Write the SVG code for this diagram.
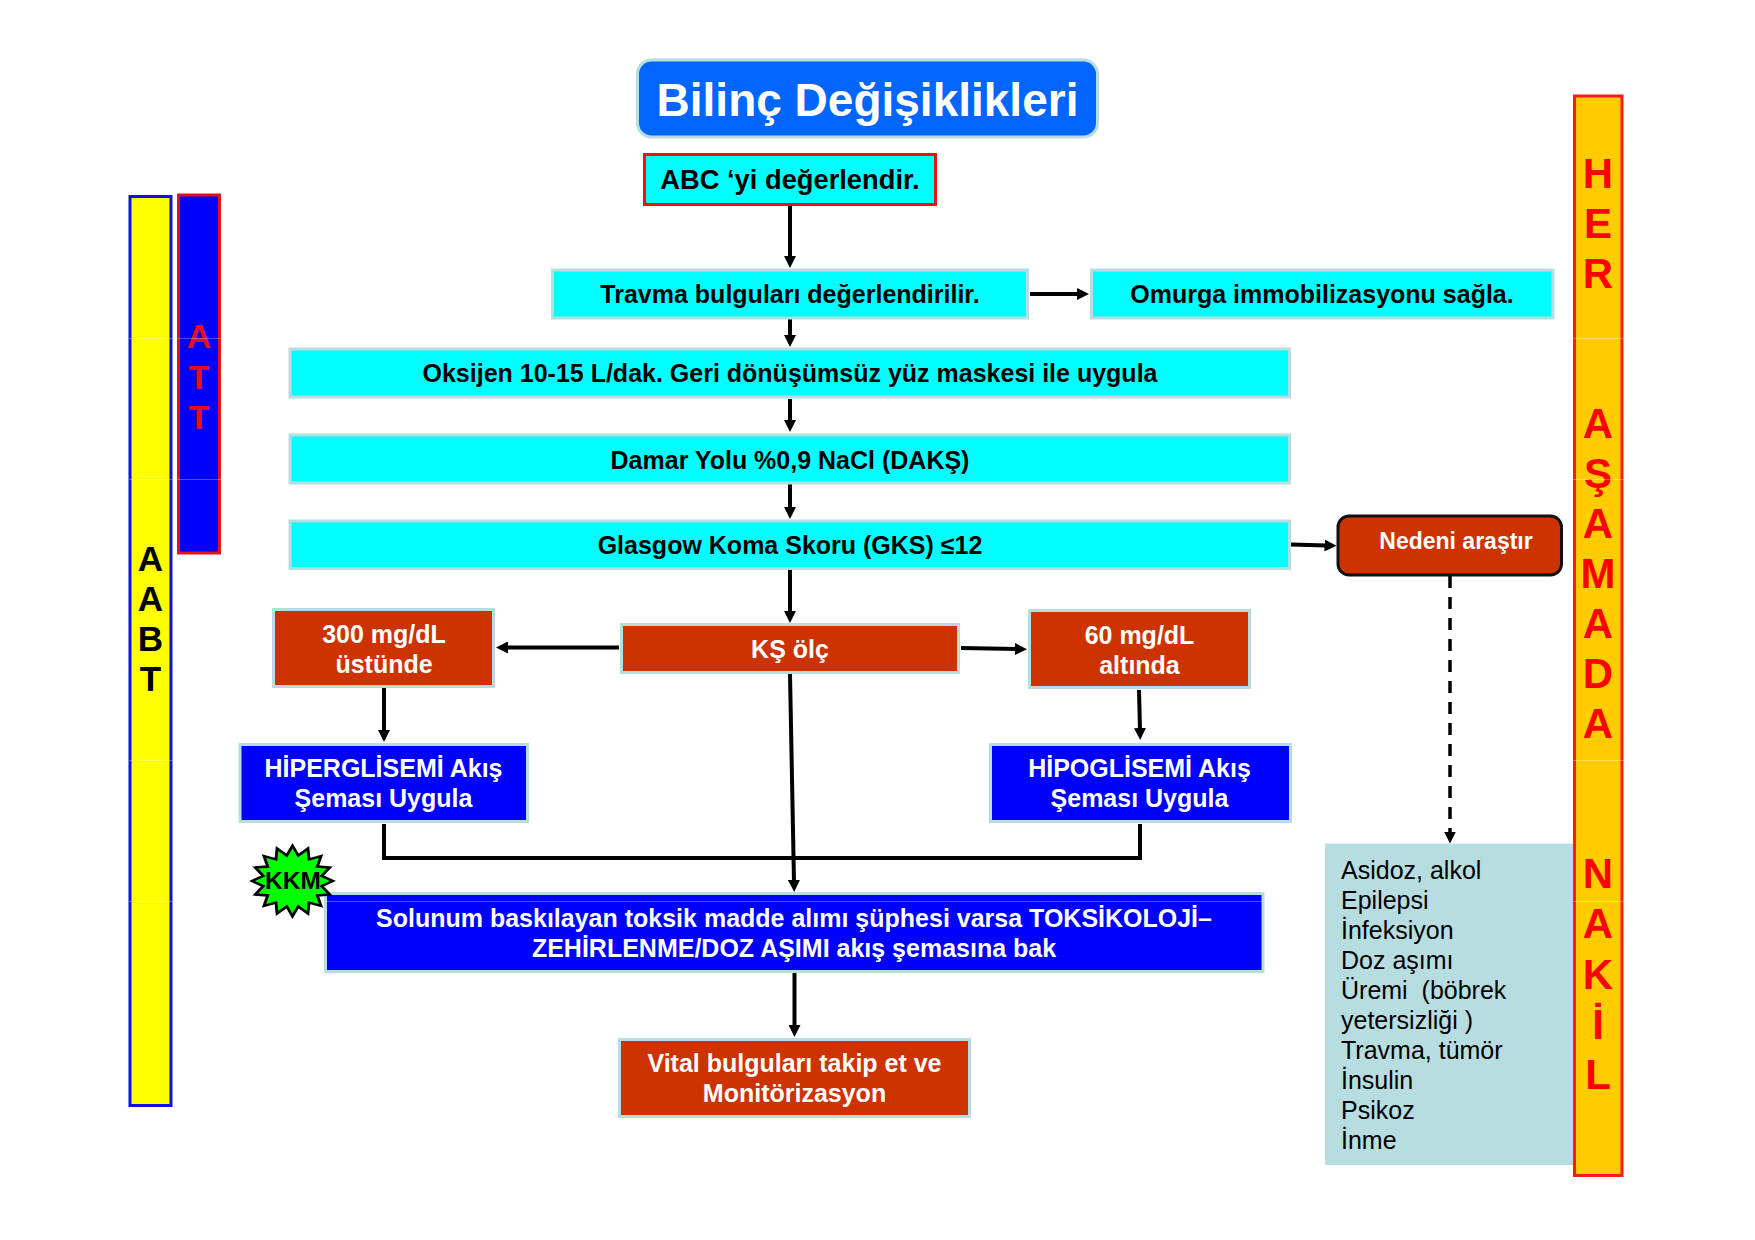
<svg xmlns="http://www.w3.org/2000/svg" width="1755" height="1240" viewBox="0 0 1755 1240">
<style>
text{font-family:"Liberation Sans",Arial,sans-serif;font-weight:700;text-anchor:middle}
.box{stroke:#b7dde0;stroke-width:3}
.cy{fill:#00ffff}.br{fill:#cc3300}.bl{fill:#0000ff}
.k{font-size:25px;fill:#000}.w{font-size:25px;fill:#fff}
.side{font-size:42px;fill:#ff0000}
.att{font-size:34px;fill:#e6101a}
.abt{font-size:35px;fill:#000}
.list{font-weight:400;font-size:25px;fill:#000;text-anchor:start}
.c{fill:none;stroke:#000;stroke-width:4}
.seam{fill:none;stroke:#fff;stroke-width:1;opacity:.3}
</style>
<defs>
<marker id="a" markerUnits="userSpaceOnUse" markerWidth="12" markerHeight="12" refX="2" refY="6" orient="auto"><path d="M0 0L12 6L0 12z" fill="#000"/></marker>
</defs>
<rect width="1755" height="1240" fill="#fff"/>
<g id="connectors">
<path class="c" marker-end="url(#a)" d="M790 206L790 258"/>
<path class="c" marker-end="url(#a)" d="M790 318L790 337"/>
<path class="c" marker-end="url(#a)" d="M1030 294L1079 294"/>
<path class="c" marker-end="url(#a)" d="M790 399L790 422"/>
<path class="c" marker-end="url(#a)" d="M790 484L790 509"/>
<path class="c" marker-end="url(#a)" d="M790 570L790 613"/>
<path class="c" marker-end="url(#a)" d="M619 647.500L506 647.500"/>
<path class="c" marker-end="url(#a)" d="M961 648L1017 649"/>
<path class="c" marker-end="url(#a)" d="M384 688L384 732"/>
<path class="c" marker-end="url(#a)" d="M1139 690L1140 730"/>
<path class="c" marker-end="url(#a)" d="M790 674L794 882"/>
<path class="c" d="M384 824L384 858L1140 858L1140 824"/>
<path class="c" marker-end="url(#a)" d="M794.500 973L794.500 1027"/>
<path class="c" marker-end="url(#a)" d="M1291 544.500L1326.500 545.500"/>
<path class="c" marker-end="url(#a)" d="M1450 576L1450 833.500" stroke-dasharray="12 9" style="stroke-width:3.500"/>
</g>
<g id="title"><rect class="box" x="637.500" y="60" width="460" height="77" rx="14" style="fill:#0066ff"/><text x="867.500" y="116" style="font-size:46px;fill:#fff">Bilinç Değişiklikleri</text></g>
<g id="abc"><rect x="644.500" y="154.500" width="291" height="50" style="fill:#00ffff;stroke:#e11;stroke-width:3"/><text class="k" x="790" y="189" style="font-size:27.300px">ABC ‘yi değerlendir.</text></g>
<g id="travma"><rect class="box cy" x="552.500" y="270" width="475" height="48"/><text class="k" x="790" y="303">Travma bulguları değerlendirilir.</text></g>
<g id="omurga"><rect class="box cy" x="1091.500" y="270" width="461.500" height="48"/><text class="k" x="1322" y="303">Omurga immobilizasyonu sağla.</text></g>
<g id="oksijen"><rect class="box cy" x="290" y="349" width="999.500" height="48"/><text class="k" x="790" y="382">Oksijen 10-15 L/dak. Geri dönüşümsüz yüz maskesi ile uygula</text></g>
<g id="damar"><rect class="box cy" x="290" y="435" width="999.500" height="48"/><text class="k" x="790" y="468.500">Damar Yolu %0,9 NaCl (DAKŞ)</text></g>
<g id="glasgow"><rect class="box cy" x="290" y="521" width="999.500" height="47.500"/><text class="k" x="790" y="554">Glasgow Koma Skoru (GKS) ≤12</text></g>
<g id="nedeni"><rect x="1338" y="516" width="223.500" height="59" rx="11" style="fill:#cc3300;stroke:#111;stroke-width:3"/><text class="w" x="1456" y="549" style="font-size:23px">Nedeni araştır</text></g>
<g id="ks"><rect class="box br" x="621.500" y="624.500" width="337" height="48"/><text class="w" x="790" y="658">KŞ ölç</text></g>
<g id="h300"><rect class="box br" x="273.500" y="609.500" width="220" height="77"/><text class="w" x="384" y="643">300 mg/dL</text><text class="w" x="384" y="673">üstünde</text></g>
<g id="h60"><rect class="box br" x="1029.500" y="610.500" width="220" height="77"/><text class="w" x="1139.500" y="644">60 mg/dL</text><text class="w" x="1139.500" y="674">altında</text></g>
<g id="hiper"><rect class="box bl" x="240" y="744.500" width="287.500" height="77"/><text class="w" x="383.500" y="777">HİPERGLİSEMİ Akış</text><text class="w" x="383.500" y="807">Şeması Uygula</text></g>
<g id="hipo"><rect class="box bl" x="990.500" y="744.500" width="300" height="77"/><text class="w" x="1139.500" y="777">HİPOGLİSEMİ Akış</text><text class="w" x="1139.500" y="807">Şeması Uygula</text></g>
<g id="solunum"><rect class="box bl" x="325.500" y="893.500" width="937.500" height="78"/><text class="w" x="794" y="926.500">Solunum baskılayan toksik madde alımı şüphesi varsa TOKSİKOLOJİ–</text><text class="w" x="794" y="956.500">ZEHİRLENME/DOZ AŞIMI akış şemasına bak</text></g>
<g id="kkm"><polygon transform="translate(292.500 881) scale(.96 .84) translate(-293 -880)" points="335,880 323.4,886 331.8,896.1 318.8,897.2 322.7,909.7 310.2,905.8 309.1,918.8 299,910.4 293,922 287,910.4 276.9,918.8 275.800,905.8 263.3,909.7 267.2,897.2 254.2,896.1 262.6,886 251,880 262.6,874 254.2,863.9 267.2,862.8 263.3,850.3 275.8,854.2 276.9,841.2 287,849.6 293,838 299,849.6 309.1,841.2 310.2,854.2 322.7,850.3 318.8,862.8 331.8,863.9 323.4,874" fill="#00ff00" stroke="#000" stroke-width="3"/><text class="k" x="293" y="889" style="font-size:24.500px">KKM</text></g>
<g id="vital"><rect class="box br" x="619.500" y="1039.500" width="350" height="77"/><text class="w" x="794.500" y="1072">Vital bulguları takip et ve</text><text class="w" x="794.500" y="1102">Monitörizasyon</text></g>
<g id="nedenler"><rect x="1325" y="843.500" width="250" height="321.500" fill="#b7dde0"/>
<text class="list"><tspan x="1341" y="878.500">Asidoz, alkol</tspan><tspan x="1341" y="908.500">Epilepsi</tspan><tspan x="1341" y="938.500">İnfeksiyon</tspan><tspan x="1341" y="968.500">Doz aşımı</tspan><tspan x="1341" y="998.500">Üremi&#160;&#160;(böbrek</tspan><tspan x="1341" y="1028.500">yetersizliği )</tspan><tspan x="1341" y="1058.500">Travma, tümör</tspan><tspan x="1341" y="1088.500">İnsulin</tspan><tspan x="1341" y="1119">Psikoz</tspan><tspan x="1341" y="1149">İnme</tspan></text></g>
<g id="abat"><rect x="130" y="196.500" width="41" height="909" style="fill:#ffff00;stroke:#1010e0;stroke-width:3"/><text class="abt" x="150.500" y="571">A</text><text class="abt" x="150.500" y="611">A</text><text class="abt" x="150.500" y="651">B</text><text class="abt" x="150.500" y="691">T</text></g>
<g id="att"><rect x="178.500" y="195" width="41" height="358" style="fill:#0000ff;stroke:#e6101a;stroke-width:3"/><text class="att" x="199" y="348">A</text><text class="att" x="199" y="389">T</text><text class="att" x="199" y="429">T</text></g>
<g id="her"><rect x="1574.500" y="96" width="47.500" height="1079.500" style="fill:#ffcc00;stroke:#ff1a1a;stroke-width:3"/>
<text class="side" x="1598" y="188">H</text><text class="side" x="1598" y="238">E</text><text class="side" x="1598" y="288">R</text><text class="side" x="1598" y="438">A</text><text class="side" x="1598" y="488">Ş</text><text class="side" x="1598" y="538">A</text><text class="side" x="1598" y="588">M</text><text class="side" x="1598" y="638">A</text><text class="side" x="1598" y="688">D</text><text class="side" x="1598" y="738">A</text><text class="side" x="1598" y="888">N</text><text class="side" x="1598" y="938">A</text><text class="side" x="1598" y="989">K</text><text class="side" x="1598" y="1039">İ</text><text class="side" x="1598" y="1089">L</text></g>
<path class="seam" d="M129 338.500H221M129 479.500H221M129 760.500H173M1573 338.500H1624M1573 479.500H1624M1573 760.500H1624M1573 901.500H1624M129 901.500H173M326 901.500H1263"/>
</svg>
